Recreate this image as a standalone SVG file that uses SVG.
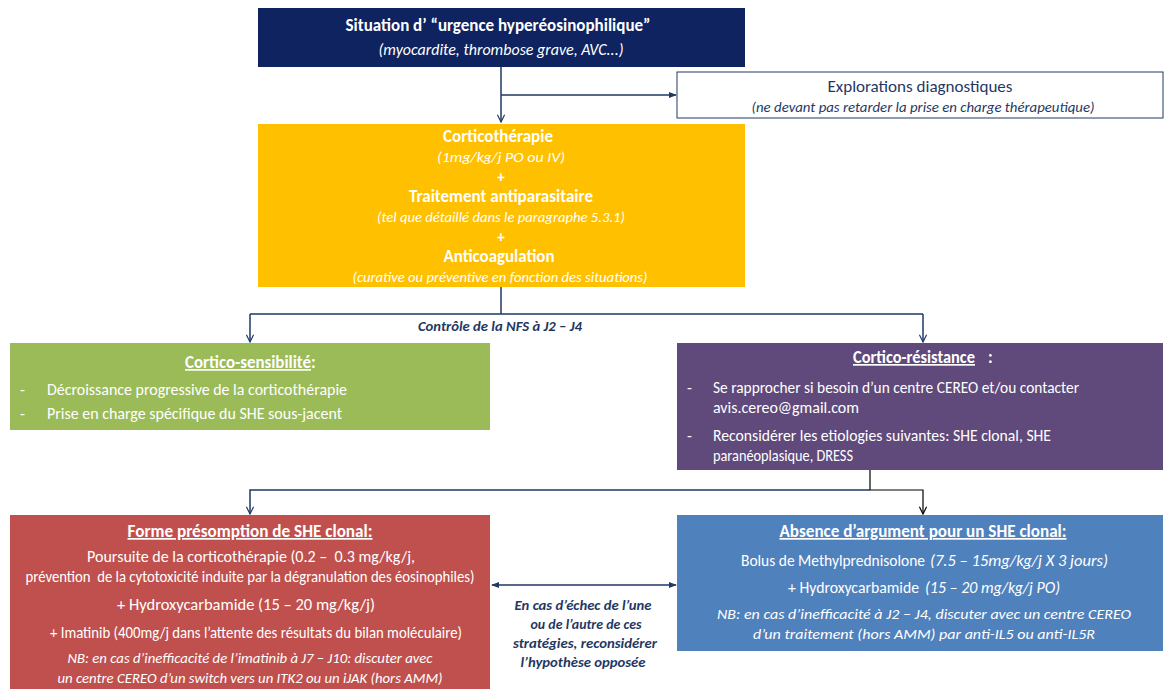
<svg xmlns="http://www.w3.org/2000/svg" width="1164" height="689" viewBox="0 0 1164 689">
<defs>
<style>
text{font-family:Carlito,Lato,"Liberation Sans",sans-serif;white-space:pre;}
.w{fill:#ffffff;}
.n{fill:#1f3864;}
.b{font-weight:bold;}
.i{font-style:italic;}
.c{text-anchor:middle;}
.u{text-decoration:underline;}
.ln{fill:none;stroke:#1f3864;stroke-width:1.5;}
.lk{fill:none;stroke:#000000;stroke-width:1.2;}
</style>
<marker id="vN" viewBox="0 0 10 10" refX="9" refY="5" markerWidth="9" markerHeight="9" orient="auto" markerUnits="userSpaceOnUse">
<path d="M1,1 L9,5 L1,9" fill="none" stroke="#1f3864" stroke-width="1.3"/>
</marker>
<marker id="vK" viewBox="0 0 10 10" refX="9" refY="5" markerWidth="9" markerHeight="9" orient="auto" markerUnits="userSpaceOnUse">
<path d="M1,1 L9,5 L1,9" fill="none" stroke="#000000" stroke-width="1.3"/>
</marker>
<marker id="tN" viewBox="0 0 10 10" refX="9" refY="5" markerWidth="8" markerHeight="8" orient="auto-start-reverse" markerUnits="userSpaceOnUse">
<path d="M0,1 L10,5 L0,9 Z" fill="#1f3864"/>
</marker>
</defs>

<g id="connectors">
<path class="ln" d="M501,67 L501,122" marker-end="url(#vN)"/>
<path class="ln" d="M501,95 L676,95" marker-end="url(#tN)"/>
<path class="ln" d="M501,287 L501,314 M250,314 L923,314"/>
<path class="ln" d="M250,314 L250,342" marker-end="url(#vN)"/>
<path class="ln" d="M923,314 L923,342" marker-end="url(#vN)"/>
<path class="lk" d="M870,470 L870,490 L923,490 L923,514" marker-end="url(#vK)"/>
<path class="ln" d="M870,490 L250,490 L250,514" marker-end="url(#vN)"/>
<path class="ln" d="M492,585 L676,585" marker-start="url(#tN)" marker-end="url(#tN)"/>
<text class="n b i c" font-size="13.5" x="500" y="331" textLength="164" lengthAdjust="spacingAndGlyphs">Contrôle de la NFS à J2 – J4</text>
<text class="n b i c" font-size="14" x="583" y="610" textLength="137" lengthAdjust="spacingAndGlyphs">En cas d’échec de l’une</text>
<text class="n b i c" font-size="14" x="586" y="629" textLength="111" lengthAdjust="spacingAndGlyphs">ou de l’autre de ces</text>
<text class="n b i c" font-size="14" x="585" y="648" textLength="144" lengthAdjust="spacingAndGlyphs">stratégies, reconsidérer</text>
<text class="n b i c" font-size="14" x="583" y="667" textLength="125" lengthAdjust="spacingAndGlyphs">l’hypothèse opposée</text>
</g>

<g id="urgence">
<rect x="258" y="8" width="487" height="59" fill="#0e2360"/>
<text class="w b c" font-size="17" x="498" y="31" textLength="305" lengthAdjust="spacingAndGlyphs">Situation d’ “urgence hyperéosinophilique”</text>
<text class="w i c" font-size="15.5" x="501" y="55" textLength="245" lengthAdjust="spacingAndGlyphs">(myocardite, thrombose grave, AVC...)</text>
</g>

<g id="explorations">
<rect x="677" y="72" width="486" height="46" fill="#ffffff" stroke="#1f3864" stroke-width="1"/>
<text class="n c" font-size="17" x="920" y="92" textLength="185" lengthAdjust="spacingAndGlyphs">Explorations diagnostiques</text>
<text class="n i c" font-size="14.5" x="923" y="112" textLength="343" lengthAdjust="spacingAndGlyphs">(ne devant pas retarder la prise en charge thérapeutique)</text>
</g>

<g id="traitement">
<rect x="258" y="124" width="487" height="163" fill="#ffc000"/>
<text class="w b c" font-size="17" x="498" y="142" textLength="110" lengthAdjust="spacingAndGlyphs">Corticothérapie</text>
<text class="w i c" font-size="15" x="501" y="162" textLength="128" lengthAdjust="spacingAndGlyphs">(1mg/kg/j PO ou IV)</text>
<text class="w b c" font-size="15" x="501" y="182">+</text>
<text class="w b c" font-size="17" x="501" y="202" textLength="184" lengthAdjust="spacingAndGlyphs">Traitement antiparasitaire</text>
<text class="w i c" font-size="15" x="501" y="222" textLength="248" lengthAdjust="spacingAndGlyphs">(tel que détaillé dans le paragraphe 5.3.1)</text>
<text class="w b c" font-size="15" x="501" y="242">+</text>
<text class="w b c" font-size="17" x="499" y="262" textLength="111" lengthAdjust="spacingAndGlyphs">Anticoagulation</text>
<text class="w i c" font-size="15" x="500" y="282" textLength="295" lengthAdjust="spacingAndGlyphs">(curative ou préventive en fonction des situations)</text>
</g>

<g id="sensibilite">
<rect x="10" y="343" width="480" height="87" fill="#9bbb59"/>
<text class="w b u" font-size="17" x="185" y="368" textLength="126" lengthAdjust="spacingAndGlyphs">Cortico-sensibilité</text>
<text class="w b" font-size="17" x="311" y="368">:</text>
<text class="w" font-size="16" x="20" y="395">-</text>
<text class="w" font-size="16" x="47" y="395" textLength="300" lengthAdjust="spacingAndGlyphs">Décroissance progressive de la corticothérapie</text>
<text class="w" font-size="16" x="20" y="419">-</text>
<text class="w" font-size="16" x="47" y="419" textLength="295" lengthAdjust="spacingAndGlyphs">Prise en charge spécifique du SHE sous-jacent</text>
</g>

<g id="resistance">
<rect x="677" y="343" width="486" height="127" fill="#604a7b"/>
<text class="w b u" font-size="17" x="853" y="363" textLength="122" lengthAdjust="spacingAndGlyphs">Cortico-résistance</text>
<text class="w b" font-size="17" x="988" y="363">:</text>
<text class="w" font-size="16" x="687" y="393">-</text>
<text class="w" font-size="16" x="713" y="393" textLength="366" lengthAdjust="spacingAndGlyphs">Se rapprocher si besoin d’un centre CEREO et/ou contacter</text>
<text class="w" font-size="16" x="713" y="413" textLength="146" lengthAdjust="spacingAndGlyphs">avis.cereo@gmail.com</text>
<text class="w" font-size="16" x="687" y="441">-</text>
<text class="w" font-size="16" x="713" y="441" textLength="338" lengthAdjust="spacingAndGlyphs">Reconsidérer les etiologies suivantes: SHE clonal, SHE</text>
<text class="w" font-size="16" x="713" y="461" textLength="140" lengthAdjust="spacingAndGlyphs">paranéoplasique, DRESS</text>
</g>

<g id="clonal">
<rect x="10" y="515" width="480" height="174" fill="#c0504d"/>
<text class="w b c u" font-size="17" x="250" y="537" textLength="245" lengthAdjust="spacingAndGlyphs">Forme présomption de SHE clonal:</text>
<text class="w c" font-size="16" x="251" y="562" textLength="328" lengthAdjust="spacingAndGlyphs">Poursuite de la corticothérapie (0.2 –  0.3 mg/kg/j,</text>
<text class="w c" font-size="16" x="250" y="582" textLength="449" lengthAdjust="spacingAndGlyphs">prévention  de la cytotoxicité induite par la dégranulation des éosinophiles)</text>
<text class="w c" font-size="16" x="246" y="610" textLength="258" lengthAdjust="spacingAndGlyphs">+ Hydroxycarbamide (15 – 20 mg/kg/j)</text>
<text class="w c" font-size="16" x="256" y="638" textLength="412" lengthAdjust="spacingAndGlyphs">+ Imatinib (400mg/j dans l’attente des résultats du bilan moléculaire)</text>
<text class="w i c" font-size="15" x="250" y="663" textLength="365" lengthAdjust="spacingAndGlyphs">NB: en cas d’inefficacité de l’imatinib à J7 – J10: discuter avec</text>
<text class="w i c" font-size="15" x="250" y="683" textLength="385" lengthAdjust="spacingAndGlyphs">un centre CEREO d’un switch vers un ITK2 ou un iJAK (hors AMM)</text>
</g>

<g id="absence">
<rect x="677" y="515" width="486" height="136" fill="#4f81bd"/>
<text class="w b c u" font-size="17" x="923" y="537" textLength="287" lengthAdjust="spacingAndGlyphs">Absence d’argument pour un SHE clonal:</text>
<text class="w" font-size="16" x="741" y="566" textLength="184" lengthAdjust="spacingAndGlyphs">Bolus de Methylprednisolone</text>
<text class="w i" font-size="16" x="930" y="566" textLength="178" lengthAdjust="spacingAndGlyphs">(7.5 – 15mg/kg/j X 3 jours)</text>
<text class="w" font-size="16" x="788" y="593" textLength="131" lengthAdjust="spacingAndGlyphs">+ Hydroxycarbamide</text>
<text class="w i" font-size="16" x="925" y="593" textLength="135" lengthAdjust="spacingAndGlyphs">(15 – 20 mg/kg/j PO)</text>
<text class="w i c" font-size="15" x="924" y="619" textLength="414" lengthAdjust="spacingAndGlyphs">NB: en cas d’inefficacité à J2 – J4, discuter avec un centre CEREO</text>
<text class="w i c" font-size="15" x="924" y="639" textLength="342" lengthAdjust="spacingAndGlyphs">d’un traitement (hors AMM) par anti-IL5 ou anti-IL5R</text>
</g>
</svg>
